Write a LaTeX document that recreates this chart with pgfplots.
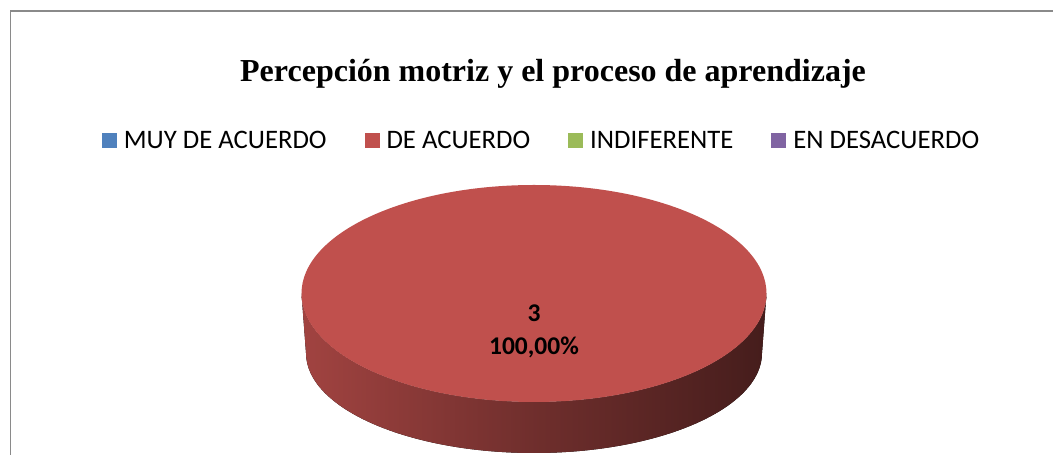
\documentclass[border=0pt]{standalone}
\usepackage{pgfplots}
\pgfplotsset{compat=1.18}
\usepackage{pgfplotstable}
\usepackage{fontspec}
\newfontfamily\titlefont{Liberation Serif}
\newfontfamily\calibri{Carlito}

\definecolor{pie0}{HTML}{4F81BD}
\definecolor{pie1}{HTML}{C0504D}
\definecolor{pie2}{HTML}{9BBB59}
\definecolor{pie3}{HTML}{8064A2}
\definecolor{framegray}{HTML}{8A8A8A}

\pgfkeys{/pgf/number format/assume math mode=true}

\pgfplotstableread[col sep=comma]{
cat,value
MUY DE ACUERDO,0
DE ACUERDO,3
INDIFERENTE,0
EN DESACUERDO,0
}\piedata

% 3-D pie geometry in axis units (1 unit = 1bp)
\def\pieCX{534}
\def\pieTY{161.5}\def\pieTRX{232.5}\def\pieTRY{108.5}
\def\pieBY{102}\def\pieBRX{228}\def\pieBRY{100}

% total of the values
\pgfplotstablegetrowsof{\piedata}
\pgfmathtruncatemacro{\nrows}{\pgfplotsretval-1}
\gdef\pietotal{0}
\foreach \i in {0,...,\nrows}{%
  \pgfplotstablegetelem{\i}{value}\of\piedata
  \pgfmathsetmacro{\tmp}{\pietotal+\pgfplotsretval}%
  \xdef\pietotal{\tmp}}
\gdef\piestart{90}

\begin{document}
\begin{tikzpicture}
\begin{axis}[
  at={(0,0)}, anchor=south west, scale only axis,
  width=1053bp, height=455bp,
  xmin=0, xmax=1053, ymin=0, ymax=455,
  hide axis, clip=false,
  legend columns=4,
  legend image code/.code={\fill[#1] (0bp,1.6bp) rectangle (14bp,15.6bp);},
  legend style={at={(axis cs:540.6,315)}, anchor=center, draw=none, fill=none,
    font=\calibri\fontsize{26.7bp}{30bp}\selectfont,
    nodes={inner sep=0pt, text height=17bp, text depth=0bp, anchor=base west},
    /tikz/every odd column/.append style={column sep=7.5bp},
    /tikz/every even column/.append style={column sep=38bp}},
]
% frame
\draw[framegray, line width=1.3bp] (axis cs:10.5,0) -- (axis cs:10.5,444) -- (axis cs:1053,444);

% title
\node[anchor=base, font=\titlefont\bfseries\fontsize{32bp}{36bp}\selectfont]
  at (axis cs:553,373) {Percepción motriz y el proceso de aprendizaje};

% legend from the table
\pgfplotsinvokeforeach{0,...,\nrows}{%
  \pgfplotstablegetelem{#1}{cat}\of\piedata
  \addlegendimage{pie#1}
  \expandafter\addlegendentry\expandafter{\pgfplotsretval}
}

% slices, clockwise from 12 o'clock
\pgfplotsinvokeforeach{0,...,\nrows}{%
  \pgfplotstablegetelem{#1}{value}\of\piedata
  \pgfmathsetmacro\pv{\pgfplotsretval}%
  \pgfmathsetmacro\pend{\piestart-360*\pv/\pietotal}%
  \pgfmathsetmacro\plo{max(\pend,-180)}%
  \pgfmathsetmacro\phi{min(\piestart,0)}%
  \pgfmathsetmacro\pmid{(\piestart+\pend)/2}%
  \pgfmathsetmacro\plf{0.65*(1-\pv/\pietotal)}%
  \pgfmathsetmacro\px{\pieCX+\plf*\pieTRX*cos(\pmid)}%
  \pgfmathsetmacro\py{\pieTY+\plf*\pieTRY*sin(\pmid)-28.5}%
  \pgfmathsetmacro\ppct{100*\pv/\pietotal}%
  \expandafter\xdef\csname pieS#1\endcsname{\piestart}%
  \expandafter\xdef\csname pieE#1\endcsname{\pend}%
  \expandafter\xdef\csname pieL#1\endcsname{\plo}%
  \expandafter\xdef\csname pieU#1\endcsname{\phi}%
  \expandafter\xdef\csname pieV#1\endcsname{\pv}%
  \expandafter\xdef\csname pieP#1\endcsname{\ppct}%
  \expandafter\xdef\csname pieX#1\endcsname{\px}%
  \expandafter\xdef\csname pieY#1\endcsname{\py}%
  \xdef\piestart{\pend}%
  \ifdim\pv pt>0pt
    \ifdim\plo pt<\phi pt
      \fill[left color=pie#1!84!black, right color=pie#1!36!black, middle color=pie#1!58!black]
        ([shift={(\csname pieU#1\endcsname:\pieTRX bp and \pieTRY bp)}]axis cs:\pieCX,\pieTY)
        -- ([shift={(\csname pieU#1\endcsname:\pieBRX bp and \pieBRY bp)}]axis cs:\pieCX,\pieBY)
        arc[start angle=\csname pieU#1\endcsname, end angle=\csname pieL#1\endcsname,
            x radius=\pieBRX bp, y radius=\pieBRY bp]
        -- ([shift={(\csname pieL#1\endcsname:\pieTRX bp and \pieTRY bp)}]axis cs:\pieCX,\pieTY)
        arc[start angle=\csname pieL#1\endcsname, end angle=\csname pieU#1\endcsname,
            x radius=\pieTRX bp, y radius=\pieTRY bp]
        -- cycle;
    \fi
    \fill[pie#1] (axis cs:\pieCX,\pieTY)
      -- ([shift={(\csname pieS#1\endcsname:\pieTRX bp and \pieTRY bp)}]axis cs:\pieCX,\pieTY)
      arc[start angle=\csname pieS#1\endcsname, end angle=\csname pieE#1\endcsname,
          x radius=\pieTRX bp, y radius=\pieTRY bp]
      -- cycle;
    \node[anchor=base, font=\calibri\bfseries\fontsize{25.5bp}{30bp}\selectfont]
      at (axis cs:\csname pieX#1\endcsname,\csname pieY#1\endcsname)
      {\pgfmathprintnumber{\csname pieV#1\endcsname}};
    \node[anchor=base, font=\calibri\bfseries\fontsize{25.5bp}{30bp}\selectfont]
      at ([yshift=-33bp]axis cs:\csname pieX#1\endcsname,\csname pieY#1\endcsname)
      {\pgfmathprintnumber[fixed, fixed zerofill, precision=2, use comma]{\csname pieP#1\endcsname}\%};
  \fi
}
\end{axis}
\pgfresetboundingbox
\useasboundingbox (0,0) rectangle (1053bp,455bp);
\end{tikzpicture}
\end{document}
